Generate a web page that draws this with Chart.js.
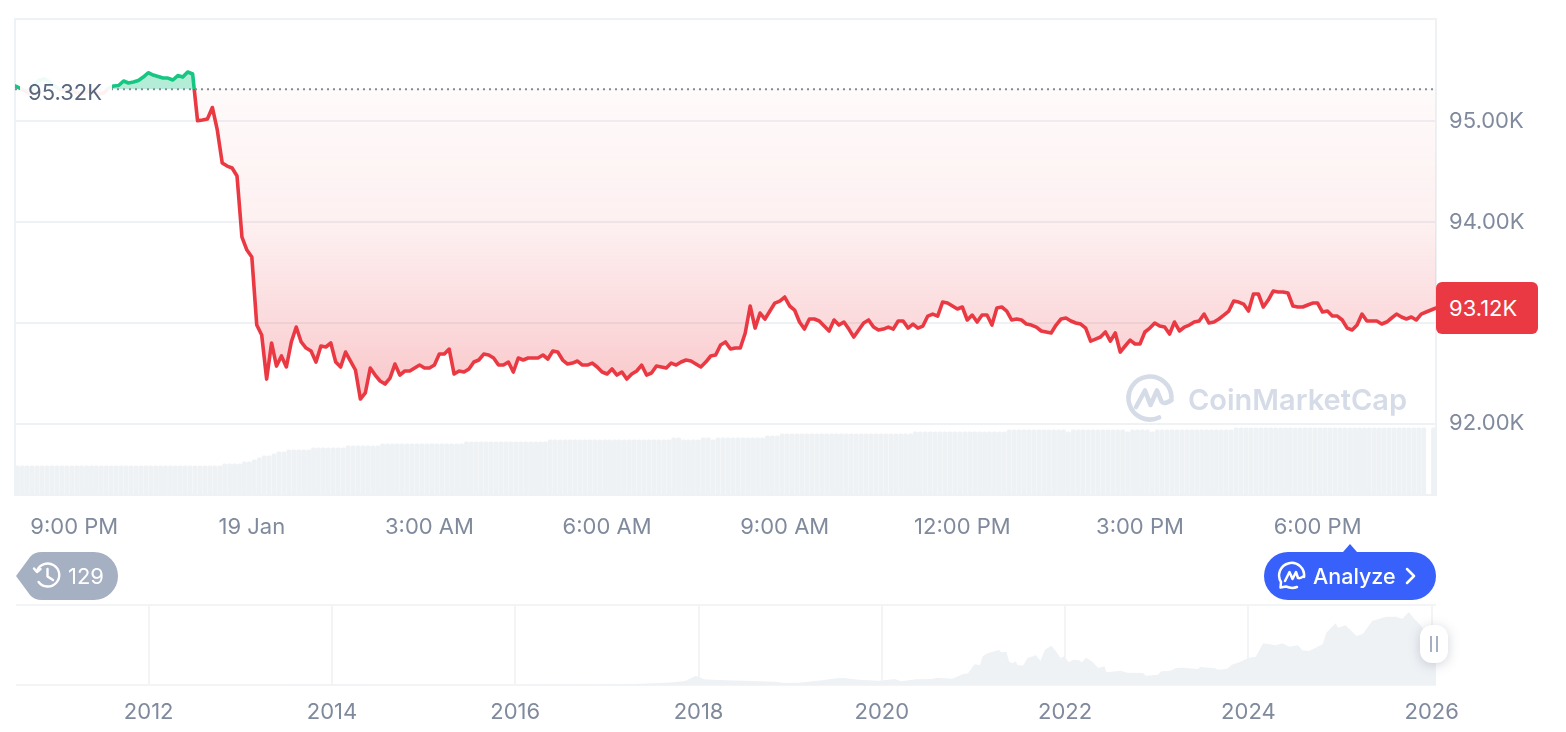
<!DOCTYPE html>
<html>
<head>
<meta charset="utf-8">
<title>Bitcoin price chart</title>
<script src="https://cdn.jsdelivr.net/npm/chart.js@4"></script>
<style>
html,body{margin:0;padding:0;background:#fff;width:1566px;height:732px;overflow:hidden;font-family:Inter,"Noto Sans",sans-serif}
canvas{position:absolute;left:0}
#main{top:0}
#mini{top:590px}
.abs{position:absolute;white-space:nowrap}
svg{position:absolute;overflow:visible}
</style>
</head>
<body>
<canvas id="main" width="1566" height="540"></canvas>
<canvas id="mini" width="1566" height="142"></canvas>

<!-- watermark -->
<svg style="left:1126px;top:374px" width="48" height="48" viewBox="0 0 48 48" fill="none" stroke="#d5dce8" stroke-width="4.6" stroke-linecap="round" stroke-linejoin="round">
  <path d="M45.5 24A21.5 21.5 0 1 0 33 43.5"/>
  <path d="M10 33L19 16.5L24.5 31L31 16.5L35.5 27.5Q38 31 45.5 26"/>
</svg>
<div class="abs" id="wm" style="left:1188px;top:382px;font-size:29px;line-height:36px;font-weight:600;color:#d5dce8">CoinMarketCap</div>

<!-- baseline label -->
<div class="abs" style="left:20px;top:76px;width:92px;height:32px;background:rgba(255,255,255,.93)"></div>
<div class="abs" style="left:28px;top:80px;font-size:22px;line-height:24px;color:#58667e">95.32K</div>

<!-- current price -->
<div class="abs" style="left:1436px;top:282px;width:102px;height:52px;background:#ea3943;border-radius:6px"></div>
<div class="abs" style="left:1449px;top:296px;font-size:22px;line-height:24px;color:#fff">93.12K</div>

<!-- history pill -->
<svg style="left:0;top:540px" width="130" height="70">
  <path d="M16 36L30 17Q34 12 42 12H94A24 24 0 0 1 94 60H42Q34 60 30 55Z" fill="#a6b0c3"/>
  <g fill="none" stroke="#fff" stroke-width="2.4" stroke-linecap="round" stroke-linejoin="round">
    <path d="M37 31A11.5 11.5 0 1 1 38.6 42"/>
    <path d="M47.5 29V36.5L53 40"/>
    <path d="M34 28.5L37 32L40.5 29"/>
  </g>
</svg>
<div class="abs" style="left:68px;top:564px;font-size:22px;line-height:24px;color:#fff">129</div>

<!-- analyze pill -->
<svg style="left:1264px;top:540px" width="172" height="62">
  <path d="M79 12L86 4L93 12Z" fill="#3861fb"/>
  <rect x="0" y="12" width="172" height="48" rx="24" fill="#3861fb"/>
  <g fill="none" stroke="#fff" stroke-width="2.5" stroke-linecap="round" stroke-linejoin="round">
    <path d="M40 37A12.5 12.5 0 1 0 17 42L16.5 47.5L22 46.5Q28 49 33 47"/>
    <path d="M21 41L25.5 32L28.5 39L32 32L34 38Q36 39 40 36"/>
    <path d="M143 29L150 36L143 43"/>
  </g>
</svg>
<div class="abs" style="left:1313px;top:564px;font-size:21.5px;line-height:24px;font-weight:500;color:#fff">Analyze</div>

<!-- range handle -->
<div class="abs" style="left:1420px;top:625px;width:28px;height:38px;background:#fff;border-radius:12px;box-shadow:0 2px 12px rgba(88,102,126,.28)"></div>
<div class="abs" style="left:1430px;top:636px;width:2px;height:16px;background:#a6b0c3"></div>
<div class="abs" style="left:1436px;top:636px;width:2px;height:16px;background:#a6b0c3"></div>

<script>
// price in thousands of USD, one reading every 5 minutes from 20:00 on 18 Jan
const prices = [
95.351,95.331,95.301,95.272,95.371,95.411,95.420,95.391,95.351,95.321,
95.311,95.311,95.292,95.282,95.282,95.301,95.292,95.272,95.282,95.331,
95.351,95.356,95.401,95.381,95.391,95.406,95.440,95.483,95.460,95.445,
95.430,95.430,95.411,95.455,95.440,95.490,95.470,95.007,95.014,95.024,
95.138,94.915,94.587,94.557,94.538,94.458,93.853,93.724,93.655,92.980,
92.881,92.444,92.802,92.573,92.673,92.564,92.812,92.960,92.812,92.752,
92.722,92.613,92.772,92.762,92.802,92.613,92.564,92.712,92.623,92.534,
92.246,92.306,92.554,92.484,92.425,92.395,92.454,92.593,92.484,92.524,
92.524,92.554,92.583,92.554,92.554,92.583,92.692,92.692,92.742,92.494,
92.524,92.514,92.544,92.613,92.633,92.692,92.683,92.653,92.583,92.583,
92.613,92.514,92.653,92.633,92.653,92.653,92.653,92.683,92.643,92.722,
92.712,92.633,92.593,92.603,92.623,92.583,92.583,92.603,92.564,92.514,
92.494,92.544,92.484,92.514,92.444,92.494,92.524,92.583,92.484,92.504,
92.573,92.564,92.554,92.603,92.583,92.613,92.633,92.623,92.593,92.564,
92.613,92.673,92.683,92.782,92.812,92.742,92.752,92.752,92.901,93.169,
92.950,93.099,93.040,93.119,93.198,93.218,93.258,93.169,93.129,93.010,
92.940,93.040,93.040,93.020,92.970,92.921,93.030,92.980,93.010,92.940,
92.861,92.931,93.000,93.030,92.960,92.931,92.940,92.960,92.940,93.020,
93.020,92.950,92.990,92.950,92.970,93.069,93.089,93.069,93.208,93.198,
93.169,93.139,93.159,93.030,93.079,93.010,93.079,93.079,92.980,93.149,
93.159,93.119,93.030,93.040,93.030,92.990,92.980,92.960,92.921,92.911,
92.901,92.980,93.040,93.050,93.020,93.000,92.990,92.950,92.821,92.841,
92.861,92.911,92.821,92.901,92.712,92.772,92.831,92.792,92.792,92.911,
92.950,93.000,92.970,92.960,92.891,93.010,92.921,92.960,92.980,93.010,
93.020,93.089,93.000,93.010,93.040,93.079,93.119,93.218,93.208,93.188,
93.119,93.288,93.288,93.159,93.228,93.317,93.308,93.308,93.298,93.169,
93.159,93.159,93.179,93.198,93.198,93.109,93.119,93.069,93.069,93.030,
92.950,92.931,92.980,93.089,93.020,93.020,93.020,92.990,93.010,93.050,
93.089,93.060,93.040,93.060,93.030,93.089,93.109,93.129,93.149
];
// 24h volume in billions of USD, one bar per 5 minutes
const volumes = [
20.5,20.5,20.5,20.5,20.5,20.5,20.5,20.5,20.5,20.5,
20.5,20.5,20.5,20.5,20.5,20.5,20.5,20.5,20.5,20.5,
20.5,20.5,20.5,20.5,20.5,20.5,20.5,20.5,20.5,20.5,
20.5,20.5,20.5,20.5,20.5,20.5,20.5,20.5,20.5,20.5,
20.5,20.5,21.9,21.9,21.9,21.9,23.3,23.3,24.7,26.1,
27.5,27.5,28.9,30.3,30.3,31.7,31.7,31.7,31.7,31.7,
33.1,33.1,33.1,33.1,33.1,33.1,33.1,34.5,34.5,34.5,
34.5,34.5,34.5,34.5,35.9,35.9,35.9,35.9,35.9,35.9,
35.9,35.9,35.9,35.9,35.9,35.9,35.9,35.9,35.9,35.9,
35.9,37.3,37.3,37.3,37.3,37.3,37.3,37.3,37.3,37.3,
37.3,37.3,37.3,37.3,37.3,37.3,37.3,37.3,38.7,38.7,
38.7,38.7,38.7,38.7,38.7,38.7,38.7,38.7,38.7,38.7,
38.7,38.7,38.7,38.7,38.7,38.7,38.7,38.7,38.7,38.7,
38.7,38.7,38.7,40.1,40.1,38.7,38.7,38.7,38.7,40.1,
40.1,38.7,40.1,40.1,40.1,40.1,40.1,40.1,40.1,40.1,
40.1,40.1,41.5,41.5,41.5,42.9,42.9,42.9,42.9,42.9,
42.9,42.9,42.9,42.9,42.9,42.9,42.9,42.9,42.9,42.9,
42.9,42.9,42.9,42.9,42.9,42.9,42.9,42.9,42.9,42.9,
42.9,42.9,44.3,44.3,44.3,44.3,44.3,44.3,44.3,44.3,
44.3,44.3,44.3,44.3,44.3,44.3,44.3,44.3,44.3,44.3,
44.3,45.7,45.7,45.7,45.7,45.7,45.7,45.7,45.7,45.7,
45.7,45.7,45.7,44.3,45.7,45.7,45.7,45.7,45.7,45.7,
45.7,45.7,45.7,45.7,45.7,44.3,45.7,45.7,45.7,45.7,
44.3,45.7,45.7,45.7,45.7,45.7,45.7,45.7,45.7,45.7,
45.7,45.7,45.7,45.7,45.7,45.7,45.7,47.1,47.1,47.1,
47.1,47.1,47.1,47.1,47.1,47.1,47.1,47.1,47.1,47.1,
47.1,47.1,47.1,47.1,47.1,47.1,47.1,47.1,47.1,47.1,
47.1,47.1,47.1,47.1,47.1,47.1,47.1,47.1,47.1,47.1,
47.1,47.1,47.1,47.1,47.1,47.1,0,47.1
];
const basePrice = 95.32;
const stepMinutes = 5;
const rangeMinutes = 1440;
const xTickMinutes = [60,240,420,600,780,960,1140,1320];
const xTickLabels = ["9:00 PM","19 Jan","3:00 AM","6:00 AM","9:00 AM","12:00 PM","3:00 PM","6:00 PM"];
const yTickValues = [92,93,94,95];
const yTickLabels = ["92.00K","","94.00K","95.00K"];

// all-time overview
const miniYears = [
2010.55,2011.45,2012,2013.27,2013.93,2014.5,2015.1,2016,2016.9,2017.2,2017.45,2017.7,2017.85,2017.9,2017.97,
2018.06,2018.23,2018.67,2018.83,2018.94,2019.09,2019.35,2019.50,2019.59,2019.75,2019.97,
2020.14,2020.21,2020.37,2020.54,2020.61,2020.77,2020.88,2020.94,
2021.01,2021.07,2021.10,2021.16,2021.21,2021.28,2021.30,2021.36,2021.39,2021.43,2021.46,2021.48,2021.54,2021.59,2021.65,2021.68,2021.73,2021.78,2021.85,2021.90,2021.95,2021.99,
2022.04,2022.09,2022.15,2022.18,2022.23,2022.30,2022.36,2022.43,2022.45,2022.61,2022.68,2022.85,2022.88,
2023.01,2023.05,2023.15,2023.21,2023.28,2023.45,2023.48,2023.63,2023.67,2023.77,2023.82,2023.90,
2024.00,2024.08,2024.16,2024.30,2024.37,2024.45,2024.54,2024.59,2024.66,2024.81,2024.85,2024.95,2024.98,
2025.06,2025.18,2025.25,2025.35,2025.50,2025.61,2025.68,2025.75,2025.81,2025.87,2025.95,2026.047
];
const miniPrices = [
0.05,0.02,0.005,0.15,1.0,0.6,0.25,0.4,0.8,1.2,2.6,4.5,7,10.5,16,
10,8.5,6.5,5.5,3.6,3.7,8.1,11.6,12.1,9.1,7.4,
10.4,6.4,9.8,10.4,12.6,10.9,18.5,20.2,
36,34.5,49.5,55,57.5,60.4,57,57,39.7,38,40.9,34.5,33.3,46.6,49.5,51.8,41.9,60.9,67.8,58.2,46.6,49.5,
39.2,43.7,42.6,39.2,47.1,39.7,29.3,32.3,21.9,24.7,21.2,20.7,16,
17.8,23.6,24.7,29.3,29.9,27.6,31,28.8,26.4,28.1,35,39.2,
46.6,48.8,72,68.5,72,66,68.5,60,58.7,70.2,90.3,106.5,98.9,
103,84.6,88.5,110.5,117.9,117.9,114.4,126,114.4,104.8,88,93.1
];
const miniTickYears = [2012,2014,2016,2018,2020,2022,2024,2026];
const yMax = 96.016, yMin = 91.294;

const font = {family:'Inter', size:22};
const tickColor = '#808a9d';
const gridColor = '#eff2f5';

const paintPlugin = {
  id:'paint',
  afterLayout(chart){
    const c = chart.ctx, s = chart.scales.y, a = chart.chartArea;
    const yb = s.getPixelForValue(basePrice);
    const stop = (yb-a.top)/(a.bottom-a.top);
    const line = c.createLinearGradient(0,a.top,0,a.bottom);
    line.addColorStop(0,'#16c784'); line.addColorStop(stop,'#16c784');
    line.addColorStop(stop,'#ea3943'); line.addColorStop(1,'#ea3943');
    const red = c.createLinearGradient(0,yb,0,s.getPixelForValue(92));
    red.addColorStop(0,'rgba(234,57,67,0.025)');
    red.addColorStop(0.4,'rgba(234,57,67,0.075)');
    red.addColorStop(0.7,'rgba(234,57,67,0.19)');
    red.addColorStop(1,'rgba(234,57,67,0.32)');
    const ds = chart.data.datasets[0];
    ds.borderColor = line;
    ds.fill = {target:{value:basePrice}, above:'rgba(22,199,132,0.32)', below:red};
  },
  beforeDraw(chart){
    const c = chart.ctx, a = chart.chartArea;
    c.save();
    c.strokeStyle = gridColor; c.lineWidth = 2;
    c.strokeRect(a.left,a.top,a.right-a.left,a.bottom-a.top);
    c.restore();
  }
};

new Chart(document.getElementById('main'),{
  type:'line',
  plugins:[paintPlugin],
  data:{datasets:[
    {label:'Price',type:'line',yAxisID:'y',order:1,
     data:prices.map((p,i)=>({x:i*stepMinutes,y:p})),
     borderWidth:3.6,borderJoinStyle:'round',borderCapStyle:'round',pointRadius:0,tension:0},
    {label:'Open',type:'line',yAxisID:'y',order:0,
     data:[{x:0,y:basePrice},{x:rangeMinutes,y:basePrice}],
     borderColor:'#858b96',borderWidth:2,borderDash:[2,4],pointRadius:0,fill:false},
    {label:'Volume',type:'bar',yAxisID:'yVol',order:2,
     data:volumes.map((v,i)=>({x:(i+0.5)*stepMinutes,y:v})),
     backgroundColor:'#eff2f5',barThickness:4.2,borderRadius:{topLeft:1.5,topRight:1.5}}
  ]},
  options:{
    responsive:false,animation:false,devicePixelRatio:1,
    layout:{padding:{left:15,top:19,right:0,bottom:0}},
    plugins:{legend:{display:false},tooltip:{enabled:false}},
    scales:{
      x:{type:'linear',min:0,max:rangeMinutes,offset:false,
         grid:{display:false,offset:false},border:{display:false},
         afterBuildTicks(s){s.ticks = xTickMinutes.map(v=>({value:v}));},
         afterFit(s){s.height = 45;},
         ticks:{font,color:tickColor,padding:11,autoSkip:false,maxRotation:0,
                callback(v){return xTickLabels[xTickMinutes.indexOf(v)];}}},
      y:{position:'right',min:yMin,max:yMax,
         grid:{color:gridColor,lineWidth:2,drawTicks:false},border:{display:false},
         afterBuildTicks(s){s.ticks = yTickValues.map(v=>({value:v}));},
         afterFit(s){s.width = 130;s.paddingTop = 0;s.paddingBottom = 0;},
         ticks:{font,color:tickColor,padding:13,crossAlign:'near',autoSkip:false,
                callback(v){return yTickLabels[yTickValues.indexOf(v)];}}},
      yVol:{display:false,min:0,max:333.2}
    }
  }
});

new Chart(document.getElementById('mini'),{
  type:'line',
  data:{datasets:[{
    data:miniYears.map((y,i)=>({x:y,y:miniPrices[i]})),
    borderWidth:0,pointRadius:0,tension:0,fill:'origin',backgroundColor:'#eff2f5'
  }]},
  options:{
    responsive:false,animation:false,devicePixelRatio:1,
    layout:{padding:{left:16,top:15,right:130,bottom:0}},
    plugins:{legend:{display:false},tooltip:{enabled:false}},
    scales:{
      x:{type:'linear',min:2010.552,max:2026.047,
         grid:{color:'#f3f4f6',lineWidth:2,drawTicks:false},border:{display:false},
         afterBuildTicks(s){s.ticks = miniTickYears.map(v=>({value:v}));},
         afterFit(s){s.height = 47;},
         ticks:{font,color:tickColor,padding:14,autoSkip:false,maxRotation:0,
                callback(v){return String(v);}}},
      y:{min:0,max:138,
         grid:{color:'#f3f4f6',lineWidth:2,drawTicks:false},border:{display:false},
         afterBuildTicks(s){s.ticks = [{value:0},{value:138}];},
         afterFit(s){s.width = 0;},
         ticks:{display:false}}
    }
  }
});
</script>
</body>
</html>
